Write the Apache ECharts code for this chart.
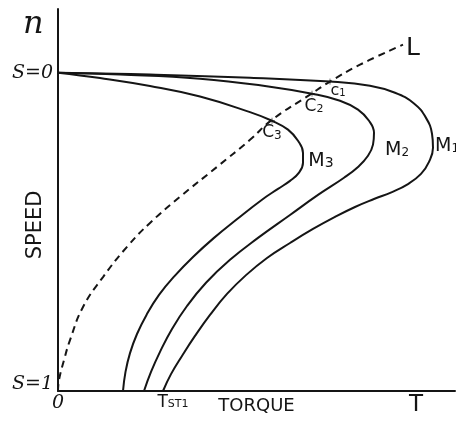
<!DOCTYPE html>
<html><head><meta charset="utf-8">
<script src="https://cdn.jsdelivr.net/npm/echarts@6/dist/echarts.min.js"></script>
<style>html,body{margin:0;padding:0;background:#fff}#c{width:456px;height:421px}</style>
</head><body><div id="c"></div>
<script>
// Torque (x) and speed (y: 1 = synchronous, S=0; 0 = standstill, S=1)
const m1Torque = [0, 23, 48, 68, 78, 84.25, 89, 92, 93.5, 93.75, 92.75, 90.75, 87.5, 83.5, 79, 74.25, 69.25, 63.75, 58, 52.25, 47, 42.25, 38, 34.25, 31, 28.25, 26.25];
const m1Speed  = [1, 0.994, 0.984, 0.972, 0.959, 0.937, 0.903, 0.858, 0.808, 0.764, 0.720, 0.682, 0.650, 0.625, 0.603, 0.578, 0.547, 0.509, 0.465, 0.418, 0.364, 0.305, 0.239, 0.173, 0.110, 0.053, 0];

const m2Torque = [0, 15.5, 35.5, 53, 63.5, 70.5, 75, 77.75, 79, 78.75, 77.5, 75, 71.5, 65, 58, 50, 43, 37, 32.25, 28.5, 25.5, 23.25, 21.5];
const m2Speed  = [1, 0.994, 0.981, 0.956, 0.934, 0.912, 0.884, 0.849, 0.811, 0.774, 0.739, 0.704, 0.670, 0.616, 0.553, 0.481, 0.412, 0.340, 0.267, 0.195, 0.123, 0.060, 0];

const m3Torque = [0, 10.5, 23, 35.5, 48, 53.5, 57.5, 60, 61.25, 61.25, 60.25, 58, 55, 51, 44.875, 39, 33.75, 29.125, 25.25, 22.125, 19.75, 18, 16.875, 16.25];
const m3Speed  = [1, 0.983, 0.958, 0.925, 0.876, 0.849, 0.821, 0.786, 0.748, 0.717, 0.686, 0.660, 0.635, 0.601, 0.541, 0.481, 0.421, 0.361, 0.302, 0.239, 0.179, 0.119, 0.060, 0];

const lTorque = [0, 0.25, 1.5, 3, 6.25, 11.25, 17.25, 23, 30.5, 39.75, 48, 53.5, 63, 68, 75.5, 86.25];
const lSpeed  = [0, 0.035, 0.097, 0.160, 0.264, 0.358, 0.453, 0.528, 0.610, 0.704, 0.789, 0.852, 0.931, 0.972, 1.025, 1.088];

const cTorque = [68, 63.5, 53.5];
const cSpeed  = [0.972, 0.934, 0.849];

const xTickValues = [0, 26, 89.5];
const xTickLabels = ['0', 'TST1', 'T'];
const yTickValues = [0, 1];
const yTickLabels = ['S=1', 'S=0'];

const zip = (a, b) => a.map((v, i) => [v, b[i]]);
const ink = '#151515';
const hand = "'DejaVu Sans', sans-serif";
const script = "'DejaVu Serif', serif";

const chart = echarts.init(document.getElementById('c'), null, {renderer: 'canvas'});
const curve = (name, data, dashed) => ({
  name, type: 'line', data, smooth: 0.45, showSymbol: false, silent: true,
  lineStyle: {color: ink, width: 2, type: dashed ? [7, 5] : 'solid'}
});
const sub = (main, s, size, subSize, drop) =>
  ({text: `{a|${main}}{b|${s}}`, align: 'center', verticalAlign: 'middle',
    rich: {a: {fontFamily: hand, fontSize: size, fill: ink},
           b: {fontFamily: hand, fontSize: subSize, fill: ink, padding: [drop, 0, 0, 0]}}});

chart.setOption({
  animation: false,
  backgroundColor: '#fff',
  grid: {left: 58, right: 1, top: 9, bottom: 30, containLabel: false, outerBoundsMode: 'none'},
  xAxis: {
    type: 'value', min: 0, max: 99.25,
    name: 'TORQUE', nameLocation: 'middle', nameGap: 6, nameMoveOverlap: false,
    nameTextStyle: {color: ink, fontFamily: hand, fontSize: 18, verticalAlign: 'top'},
    axisLine: {lineStyle: {color: ink, width: 2}},
    axisTick: {show: false}, splitLine: {show: false},
    axisLabel: {
      customValues: xTickValues, margin: 3, color: ink,
      formatter: v => {
        const s = xTickLabels[xTickValues.indexOf(v)];
        if (s === 'TST1') return '{sp|}{t|T}{s|ST1}';
        if (s === 'T') return '{T|T}';
        return '{z|' + s + '}';
      },
      rich: {
        sp: {width: 22},
        t: {fontFamily: hand, fontSize: 17, color: ink},
        s: {fontFamily: hand, fontSize: 11, color: ink, padding: [3, 0, 0, 0]},
        T: {fontFamily: hand, fontSize: 23, color: ink},
        z: {fontFamily: script, fontStyle: 'italic', fontSize: 19, color: ink}
      }
    }
  },
  yAxis: {
    type: 'value', min: 0, max: 1.2,
    axisLine: {lineStyle: {color: ink, width: 2}},
    axisTick: {show: false}, splitLine: {show: false},
    axisLabel: {
      customValues: yTickValues, margin: 5, color: ink,
      formatter: v => v === 0 ? '{u|' + yTickLabels[0] + '}' : '{s|' + yTickLabels[1] + '}',
      rich: {
        u: {fontFamily: script, fontStyle: 'italic', fontSize: 19, color: ink, padding: [0, 0, 14, 0]},
        s: {fontFamily: script, fontStyle: 'italic', fontSize: 19, color: ink}
      }
    }
  },
  series: [
    curve('M1', zip(m1Torque, m1Speed)),
    curve('M2', zip(m2Torque, m2Speed)),
    curve('M3', zip(m3Torque, m3Speed)),
    curve('L', zip(lTorque, lSpeed), true),
    {type: 'scatter', data: zip(cTorque, cSpeed), symbol: 'path://M0,5L10,5M5,0L5,10', symbolSize: 6,
     itemStyle: {color: 'none', borderColor: '#555', borderWidth: 1}, silent: true}
  ],
  graphic: [
    {type: 'text', left: 23, top: 9, style: {text: 'n', font: "italic 32px 'DejaVu Serif'", fill: ink}},
    {type: 'text', x: 36, y: 225, rotation: Math.PI / 2, style: {text: 'SPEED', font: "21px 'DejaVu Sans'", fill: ink, align: 'center', verticalAlign: 'middle'}},
    {type: 'text', x: 413, y: 48, style: {text: 'L', font: "25px 'DejaVu Sans'", fill: ink, align: 'center', verticalAlign: 'middle'}},
    {type: 'text', x: 338, y: 91, style: sub('c', '1', 16, 10, 4)},
    {type: 'text', x: 314, y: 107, style: sub('C', '2', 17, 11, 5)},
    {type: 'text', x: 272, y: 133, style: sub('C', '3', 17, 12, 5)},
    {type: 'text', x: 321, y: 161, style: sub('M', '3', 19, 14, 5)},
    {type: 'text', x: 397, y: 150, style: sub('M', '2', 19, 12, 6)},
    {type: 'text', x: 447, y: 146, style: sub('M', '1', 19, 12, 6)}
  ]
});
</script></body></html>
